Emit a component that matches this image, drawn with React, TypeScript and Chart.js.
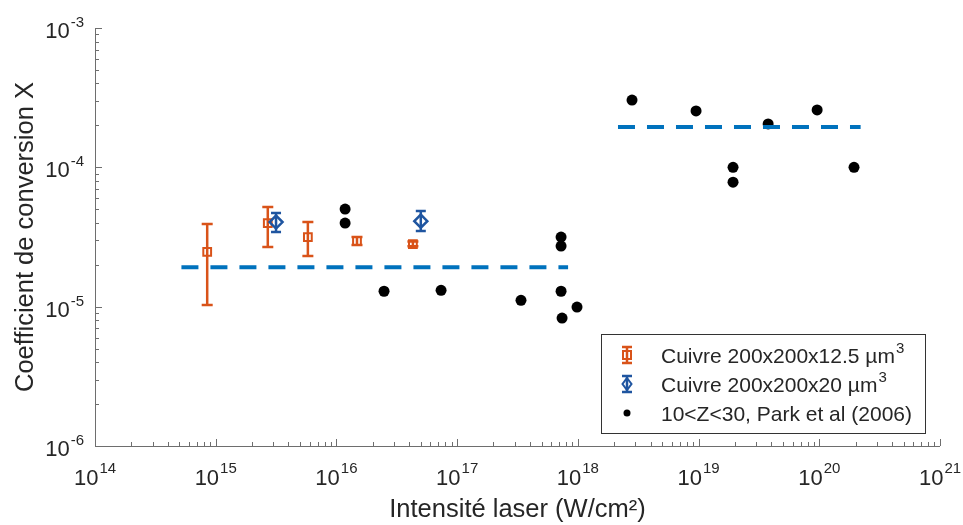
import React, { useEffect, useRef } from "react";
import { Chart, registerables } from "chart.js";

Chart.register(...registerables);

// ---- data ----
const xDecades = [14, 15, 16, 17, 18, 19, 20, 21];
const yDecades = [-6, -5, -4, -3];

const orangeX = [8.5e14, 2.7e15, 5.8e15, 1.48e16, 4.3e16];
const orangeY = [2.47e-5, 3.98e-5, 3.16e-5, 2.96e-5, 2.81e-5];
const orangeHi = [3.92e-5, 5.19e-5, 4.05e-5, 3.16e-5, 2.93e-5];
const orangeLo = [1.03e-5, 2.68e-5, 2.31e-5, 2.77e-5, 2.71e-5];

const blueX = [3.16e15, 5.0e16];
const blueY = [4.05e-5, 4.11e-5];
const blueHi = [4.7e-5, 4.85e-5];
const blueLo = [3.43e-5, 3.49e-5];

const parkX = [1.18e16, 1.18e16, 2.48e16, 7.36e16, 3.38e17, 7.26e17, 7.26e17, 7.26e17, 7.4e17, 9.84e17, 2.81e18, 9.53e18, 1.93e19, 1.93e19, 3.77e19, 9.6e19, 1.94e20];
const parkY = [5.02e-5, 3.98e-5, 1.29e-5, 1.31e-5, 1.11e-5, 3.16e-5, 2.72e-5, 1.29e-5, 8.28e-6, 9.93e-6, 3.04e-4, 2.54e-4, 1.0e-4, 7.83e-5, 2.05e-4, 2.58e-4, 1.0e-4];

const line1X = [5.2e14, 8.3e17];
const line1Y = [1.92e-5, 1.92e-5];
const line2X = [2.15e18, 2.2e20];
const line2Y = [1.95e-4, 1.95e-4];

const labelOrange = "Cuivre 200x200x12.5 µm^3";
const labelBlue = "Cuivre 200x200x20 µm^3";
const labelPark = "10<Z<30, Park et al (2006)";
const xTitle = "Intensité laser (W/cm²)";
const yTitle = "Coefficient de conversion X";

const ORANGE = "#D95319";
const BLUE = "#1F55A0";
const DASH = "#0072BD";
const TEXT = "#262626";
const AXIS = "#6e6e6e";
const FONT = "'Liberation Sans', Arial, sans-serif";

const pts = (xs: number[], ys: number[]) => xs.map((x, i) => ({ x, y: ys[i] }));

function drawErrBar(ctx: CanvasRenderingContext2D, x: number, yTop: number, yBot: number, color: string, cap: number) {
  ctx.save();
  ctx.strokeStyle = color;
  ctx.lineWidth = 2.5;
  ctx.beginPath();
  ctx.moveTo(x, yTop);
  ctx.lineTo(x, yBot);
  ctx.moveTo(x - cap, yTop);
  ctx.lineTo(x + cap, yTop);
  ctx.moveTo(x - cap, yBot);
  ctx.lineTo(x + cap, yBot);
  ctx.stroke();
  ctx.restore();
}

const errorBarPlugin = {
  id: "errorBars",
  beforeDatasetsDraw(chart: any) {
    const ctx = chart.ctx;
    const xs = chart.scales.x;
    const ys = chart.scales.y;
    orangeX.forEach((x, i) => {
      drawErrBar(ctx, xs.getPixelForValue(x), ys.getPixelForValue(orangeHi[i]), ys.getPixelForValue(orangeLo[i]), ORANGE, 5.5);
    });
    blueX.forEach((x, i) => {
      drawErrBar(ctx, xs.getPixelForValue(x), ys.getPixelForValue(blueHi[i]), ys.getPixelForValue(blueLo[i]), BLUE, 5);
    });
  },
};

function drawPow(ctx: CanvasRenderingContext2D, exp: string, x: number, baseBase: number, expBase: number, align: "center" | "right") {
  ctx.font = `22px ${FONT}`;
  const w10 = ctx.measureText("10").width;
  ctx.font = `15px ${FONT}`;
  const we = ctx.measureText(exp).width;
  const total = w10 + we + 1;
  const left = align === "center" ? x - total / 2 : x - total;
  ctx.textAlign = "left";
  ctx.textBaseline = "alphabetic";
  ctx.font = `22px ${FONT}`;
  ctx.fillText("10", left, baseBase);
  ctx.font = `15px ${FONT}`;
  ctx.fillText(exp, left + w10 + 1, expBase);
}

function drawSupText(ctx: CanvasRenderingContext2D, text: string, x: number, y: number) {
  const parts = text.split("^");
  ctx.textAlign = "left";
  ctx.textBaseline = "alphabetic";
  ctx.font = `21px ${FONT}`;
  ctx.fillText(parts[0], x, y);
  if (parts[1]) {
    const w = ctx.measureText(parts[0]).width;
    ctx.font = `15px ${FONT}`;
    ctx.fillText(parts[1], x + w + 1, y - 10);
  }
}

const axesPlugin = {
  id: "axesDeco",
  afterDraw(chart: any) {
    const ctx: CanvasRenderingContext2D = chart.ctx;
    const a = chart.chartArea;
    const xs = chart.scales.x;
    const ys = chart.scales.y;
    ctx.save();
    ctx.strokeStyle = AXIS;
    ctx.lineWidth = 1;
    ctx.beginPath();
    ctx.moveTo(a.left + 0.5, a.top);
    ctx.lineTo(a.left + 0.5, a.bottom + 0.5);
    ctx.lineTo(a.right, a.bottom + 0.5);
    // x ticks
    xDecades.forEach((d, idx) => {
      const px = Math.round(xs.getPixelForValue(Math.pow(10, d))) + 0.5;
      ctx.moveTo(px, a.bottom);
      ctx.lineTo(px, a.bottom - 7);
      if (idx < xDecades.length - 1) {
        for (let k = 2; k <= 9; k++) {
          const p = Math.round(xs.getPixelForValue(k * Math.pow(10, d))) + 0.5;
          ctx.moveTo(p, a.bottom);
          ctx.lineTo(p, a.bottom - 4);
        }
      }
    });
    yDecades.forEach((d, idx) => {
      const py = Math.round(ys.getPixelForValue(Math.pow(10, d))) + 0.5;
      ctx.moveTo(a.left, py);
      ctx.lineTo(a.left + 7, py);
      if (idx < yDecades.length - 1) {
        for (let k = 2; k <= 9; k++) {
          const p = Math.round(ys.getPixelForValue(k * Math.pow(10, d))) + 0.5;
          ctx.moveTo(a.left, p);
          ctx.lineTo(a.left + 4, p);
        }
      }
    });
    ctx.stroke();

    ctx.fillStyle = TEXT;
    xDecades.forEach((d) => {
      const px = xs.getPixelForValue(Math.pow(10, d));
      drawPow(ctx, String(d), px, a.bottom + 39, a.bottom + 27, "center");
    });
    yDecades.forEach((d) => {
      const py = ys.getPixelForValue(Math.pow(10, d));
      drawPow(ctx, String(d), a.left - 11, py + 10, py - 1, "right");
    });

    // titles
    ctx.font = `25.5px ${FONT}`;
    ctx.textAlign = "center";
    ctx.textBaseline = "alphabetic";
    ctx.fillText(xTitle, (a.left + a.right) / 2, 517);
    ctx.save();
    ctx.translate(33, (a.top + a.bottom) / 2);
    ctx.rotate(-Math.PI / 2);
    ctx.fillText(yTitle, 0, 0);
    ctx.restore();

    // legend
    const bx = 601, by = 334, bw = 324, bh = 99;
    ctx.fillStyle = "#ffffff";
    ctx.fillRect(bx, by, bw, bh);
    ctx.strokeStyle = "#333333";
    ctx.lineWidth = 1;
    ctx.strokeRect(bx + 0.5, by + 0.5, bw, bh);
    const mx = 627;
    const tx = 661;
    const rows = [355, 384, 413];
    // orange entry
    drawErrBar(ctx, mx, rows[0] - 8, rows[0] + 8, ORANGE, 5);
    ctx.strokeStyle = ORANGE;
    ctx.lineWidth = 2;
    ctx.strokeRect(mx - 4, rows[0] - 4, 8, 8);
    // blue entry
    drawErrBar(ctx, mx, rows[1] - 8, rows[1] + 8, BLUE, 5);
    ctx.strokeStyle = BLUE;
    ctx.lineWidth = 2;
    ctx.beginPath();
    ctx.moveTo(mx, rows[1] - 6);
    ctx.lineTo(mx + 4.5, rows[1]);
    ctx.lineTo(mx, rows[1] + 6);
    ctx.lineTo(mx - 4.5, rows[1]);
    ctx.closePath();
    ctx.stroke();
    // park entry
    ctx.fillStyle = "#000";
    ctx.beginPath();
    ctx.arc(mx, rows[2], 3.5, 0, Math.PI * 2);
    ctx.fill();

    ctx.fillStyle = TEXT;
    drawSupText(ctx, labelOrange, tx, rows[0] + 8);
    drawSupText(ctx, labelBlue, tx, rows[1] + 8);
    drawSupText(ctx, labelPark, tx, rows[2] + 8);
    ctx.restore();
  },
};

export default function App() {
  const ref = useRef<HTMLCanvasElement | null>(null);
  useEffect(() => {
    document.body.style.margin = "0";
    const canvas = ref.current!;
    const chart = new Chart(canvas, {
      type: "scatter",
      data: {
        datasets: [
          {
            type: "line",
            label: "moyenne 1",
            data: pts(line1X, line1Y),
            borderColor: DASH,
            borderWidth: 4,
            borderDash: [17, 12],
            pointRadius: 0,
            fill: false,
            order: 0,
          } as any,
          {
            type: "line",
            label: "moyenne 2",
            data: pts(line2X, line2Y),
            borderColor: DASH,
            borderWidth: 4,
            borderDash: [17, 12],
            pointRadius: 0,
            fill: false,
            order: 0,
          } as any,
          {
            label: labelPark,
            data: pts(parkX, parkY),
            pointStyle: "circle",
            pointRadius: 5.5,
            backgroundColor: "#000",
            borderColor: "#000",
            borderWidth: 0,
            order: 3,
          },
          {
            label: labelOrange,
            data: pts(orangeX, orangeY),
            pointStyle: "rect",
            pointRadius: 5.5,
            backgroundColor: "rgba(0,0,0,0)",
            borderColor: ORANGE,
            borderWidth: 2,
            order: 2,
          },
          {
            label: labelBlue,
            data: pts(blueX, blueY),
            pointStyle: "rectRot",
            pointRadius: 6.5,
            backgroundColor: "rgba(0,0,0,0)",
            borderColor: BLUE,
            borderWidth: 2.5,
            order: 1,
          },
        ],
      },
      options: {
        responsive: false,
        animation: false,
        layout: { padding: { left: 95, right: 23, top: 28, bottom: 79 } },
        plugins: { legend: { display: false }, tooltip: { enabled: false } },
        scales: {
          x: { type: "logarithmic", min: 1e14, max: 1e21, display: false },
          y: { type: "logarithmic", min: 1e-6, max: 1e-3, display: false },
        },
      },
      plugins: [errorBarPlugin, axesPlugin],
    });
    return () => chart.destroy();
  }, []);
  return (
    <div style={{ position: "absolute", left: 0, top: 0, width: 963, height: 525, background: "#fff" }}>
      <canvas ref={ref} width={963} height={525} />
    </div>
  );
}
